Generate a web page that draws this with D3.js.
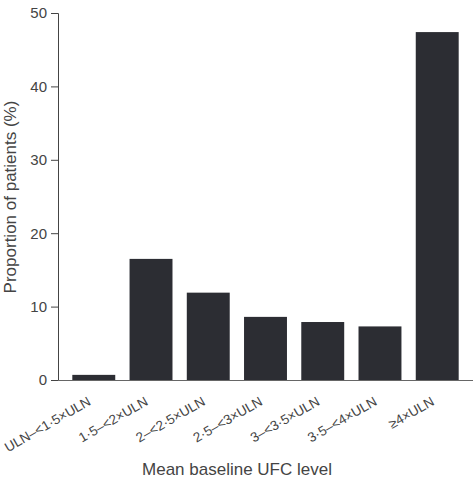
<!DOCTYPE html>
<html>
<head>
<meta charset="utf-8">
<script src="https://cdn.jsdelivr.net/npm/d3@7"></script>
<style>
  body { margin: 0; background: #fff; }
  svg text { font-family: "Liberation Sans", Arial, sans-serif; fill: #444; }
</style>
</head>
<body>
<div id="chart-area"></div>
<script>
// data
var categories = ["ULN–<1·5×ULN", "1·5–<2×ULN", "2–<2·5×ULN", "2·5–<3×ULN", "3–<3·5×ULN", "3·5–<4×ULN", "≥4×ULN"];
var proportions = [0.7, 16.5, 11.9, 8.6, 7.9, 7.3, 47.4];
var yTicks = [0, 10, 20, 30, 40, 50];

var svg_width = 473, svg_height = 483;
var margin = { top: 13, right: 0, bottom: 103, left: 58 };
var width = svg_width - margin.left - margin.right;
var height = svg_height - margin.top - margin.bottom;

var svg = d3.select("#chart-area").append("svg")
    .attr("width", svg_width)
    .attr("height", svg_height);

var g = svg.append("g")
    .attr("transform", "translate(" + margin.left + "," + margin.top + ")");

// scales
var x = d3.scaleBand()
    .domain(categories)
    .range([0, width])
    .paddingInner(0.25)
    .paddingOuter(0.25);

var y = d3.scaleLinear()
    .domain([0, 50])
    .range([height, 0]);

// bars
g.selectAll("rect.bar")
    .data(categories)
    .enter().append("rect")
    .attr("class", "bar")
    .attr("x", function (d) { return x(d); })
    .attr("width", x.bandwidth())
    .attr("y", function (d, i) { return y(proportions[i]); })
    .attr("height", function (d, i) { return height - y(proportions[i]); })
    .attr("fill", "#2c2d33");

// y axis
var yAxis = g.append("g")
    .call(d3.axisLeft(y).tickValues(yTicks).tickSize(7).tickPadding(4));
yAxis.selectAll("text").attr("font-size", "15px").style("fill", "#444");
yAxis.selectAll("line, path").attr("stroke", "#444");

// x axis
var xAxis = g.append("g")
    .attr("transform", "translate(0," + height + ")")
    .call(d3.axisBottom(x).tickSize(0).tickPadding(0));
xAxis.select(".domain").attr("stroke", "#666");
xAxis.selectAll("text")
    .attr("font-size", "13.5px")
    .attr("text-anchor", "end")
    .attr("transform", "translate(-2,24) rotate(-30)")
    .attr("dy", "0")
    .attr("y", 0)
    .style("fill", "#444");

// axis titles
svg.append("text")
    .attr("x", 237)
    .attr("y", 475)
    .attr("text-anchor", "middle")
    .attr("font-size", "17px")
    .text("Mean baseline UFC level");

svg.append("text")
    .attr("transform", "rotate(-90)")
    .attr("x", -197)
    .attr("y", 15.5)
    .attr("text-anchor", "middle")
    .attr("font-size", "17px")
    .text("Proportion of patients (%)");
</script>
</body>
</html>
